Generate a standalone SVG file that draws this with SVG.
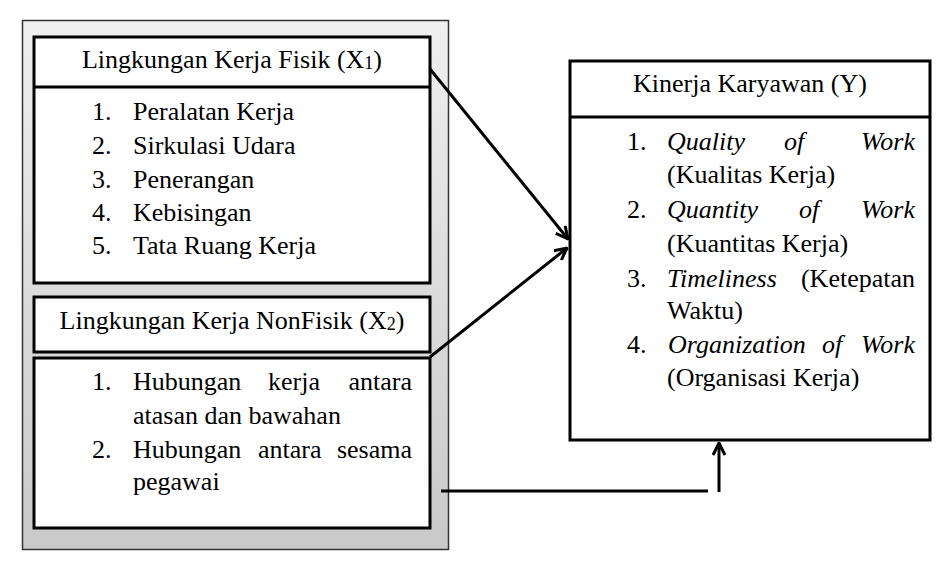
<svg xmlns="http://www.w3.org/2000/svg" width="948" height="574" viewBox="0 0 948 574">
<style>
  .box { fill: #ffffff; stroke: #000000; stroke-width: 3; }
  .div { stroke: #000000; stroke-width: 3; }
  .t { font-family: "Liberation Serif", "Times New Roman", serif; font-size: 26px; fill: #000000; }
  .c { text-anchor: middle; }
  .e { text-anchor: end; }
  .i { font-style: italic; }
  .conn { stroke: #000000; stroke-width: 3; fill: none; }
</style>
<defs>
  <linearGradient id="gray" x1="0" y1="0" x2="0" y2="1">
    <stop offset="0" stop-color="#efefef"/>
    <stop offset="1" stop-color="#c9c9c9"/>
  </linearGradient>
  <marker id="arr" viewBox="0 0 14 14" refX="13" refY="7" markerWidth="14" markerHeight="14" markerUnits="userSpaceOnUse" orient="auto">
    <path d="M1,1 L13,7 L1,13" fill="none" stroke="#000" stroke-width="3"/>
  </marker>
</defs>
<rect width="948" height="574" fill="#ffffff"/>

<g id="container">
  <rect x="22.5" y="20.5" width="426" height="529" fill="url(#gray)" stroke="#333" stroke-width="1.5"/>
</g>

<g id="x1">
  <rect class="box" x="34" y="37" width="396" height="246"/>
  <line class="div" x1="34" y1="87" x2="430" y2="87"/>
  <text class="t c" x="232" y="68">Lingkungan Kerja Fisik (X<tspan font-size="18" dy="1">1</tspan><tspan dy="-1">)</tspan></text>
  <text class="t" x="92" y="120">1.</text><text class="t" x="133" y="120">Peralatan Kerja</text>
  <text class="t" x="92" y="154">2.</text><text class="t" x="133" y="154">Sirkulasi Udara</text>
  <text class="t" x="92" y="188">3.</text><text class="t" x="133" y="188">Penerangan</text>
  <text class="t" x="92" y="221">4.</text><text class="t" x="133" y="221">Kebisingan</text>
  <text class="t" x="92" y="254">5.</text><text class="t" x="133" y="254">Tata Ruang Kerja</text>
</g>

<g id="x2">
  <rect class="box" x="34" y="297" width="396" height="55"/>
  <text class="t c" x="232" y="329">Lingkungan Kerja NonFisik (X<tspan font-size="18" dy="1">2</tspan><tspan dy="-1">)</tspan></text>
  <rect class="box" x="34" y="358" width="396" height="170"/>
  <text class="t" x="92" y="390">1.</text>
  <text class="t" x="133" y="390">Hubungan</text><text class="t" x="268" y="390">kerja</text><text class="t e" x="412" y="390">antara</text>
  <text class="t" x="133" y="424">atasan dan bawahan</text>
  <text class="t" x="92" y="458">2.</text>
  <text class="t" x="133" y="458">Hubungan</text><text class="t" x="258" y="458">antara</text><text class="t e" x="412" y="458">sesama</text>
  <text class="t" x="133" y="490">pegawai</text>
</g>

<g id="y">
  <rect class="box" x="570" y="61" width="360" height="379"/>
  <line class="div" x1="570" y1="117" x2="930" y2="117"/>
  <text class="t c" x="750" y="92">Kinerja Karyawan (Y)</text>
  <text class="t" x="627" y="150">1.</text>
  <text class="t i" x="667" y="150">Quality</text><text class="t i" x="784" y="150">of</text><text class="t i e" x="915" y="150">Work</text>
  <text class="t" x="667" y="183">(Kualitas Kerja)</text>
  <text class="t" x="627" y="218">2.</text>
  <text class="t i" x="667" y="218">Quantity</text><text class="t i" x="799" y="218">of</text><text class="t i e" x="915" y="218">Work</text>
  <text class="t" x="667" y="252">(Kuantitas Kerja)</text>
  <text class="t" x="627" y="287">3.</text>
  <text class="t i" x="667" y="287">Timeliness</text><text class="t e" x="915" y="287">(Ketepatan</text>
  <text class="t" x="667" y="319">Waktu)</text>
  <text class="t" x="627" y="353">4.</text>
  <text class="t i" x="668" y="353">Organization</text><text class="t i" x="822" y="353">of</text><text class="t i e" x="915" y="353">Work</text>
  <text class="t" x="667" y="386">(Organisasi Kerja)</text>
</g>

<g id="connectors">
  <line class="conn" x1="430" y1="69" x2="568" y2="239" marker-end="url(#arr)"/>
  <line class="conn" x1="430" y1="357" x2="567" y2="248" marker-end="url(#arr)"/>
  <line class="conn" x1="441" y1="491" x2="708" y2="491"/>
  <line class="conn" x1="719" y1="492" x2="719" y2="443" marker-end="url(#arr)"/>
</g>
</svg>
